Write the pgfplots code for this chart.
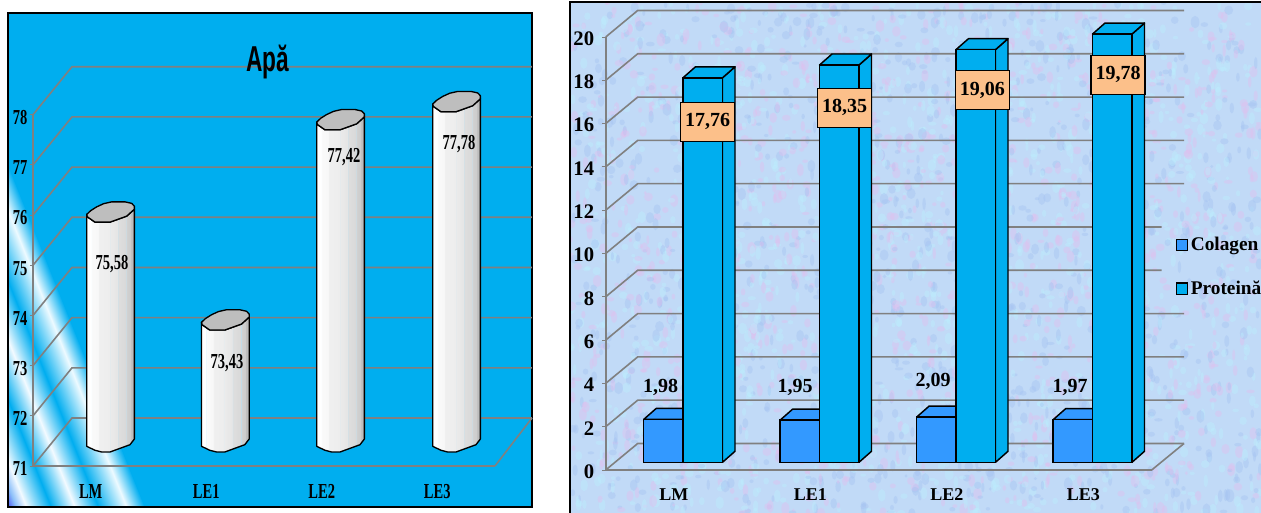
\documentclass[border=0pt]{standalone}
\usepackage{pgfplots}
\usepackage{pgfplotstable}
\usepackage{fontspec}
\pgfplotsset{compat=1.18}
\setmainfont{Liberation Serif}
\newfontfamily\condser[FakeStretch=0.68]{Liberation Serif}
\newfontfamily\condsans[FakeStretch=0.63]{Liberation Sans}
\definecolor{panelL}{RGB}{0,174,239}
\definecolor{panelR}{RGB}{193,218,247}
\definecolor{gridc}{RGB}{128,128,128}
\definecolor{colag}{RGB}{51,153,255}
\definecolor{prot}{RGB}{0,174,239}
\definecolor{boxc}{RGB}{252,192,138}
\definecolor{capc}{RGB}{190,190,190}
\definecolor{blobA}{RGB}{226,190,238}
\definecolor{blobB}{RGB}{188,238,254}
\definecolor{blobC}{RGB}{165,195,242}
\pgfdeclarehorizontalshading{cyl}{100bp}{rgb(0bp)=(1,1,1); rgb(25bp)=(1,1,1); rgb(29.5bp)=(1,1,1); rgb(30bp)=(.85,.94,.98); rgb(30.5bp)=(.98,.98,.98); rgb(37bp)=(.97,.97,.97); rgb(37.5bp)=(.94,.94,.94); rgb(48.5bp)=(.93,.93,.93); rgb(49bp)=(.8,.9,.95); rgb(49.5bp)=(.92,.92,.92); rgb(57bp)=(.9,.9,.9); rgb(57.5bp)=(.78,.89,.94); rgb(58bp)=(.87,.87,.87); rgb(66bp)=(.85,.85,.85); rgb(66.5bp)=(.74,.86,.92); rgb(67bp)=(.82,.82,.82); rgb(71bp)=(.8,.8,.8); rgb(71.5bp)=(.75,.75,.75); rgb(75bp)=(.72,.72,.72); rgb(100bp)=(.72,.72,.72)}
\pgfdeclarehorizontalshading{band}{100bp}{rgb(0bp)=(.3,.35,.95); rgb(25bp)=(.3,.35,.95); rgb(28bp)=(.55,.75,.98); rgb(31.7bp)=(.95,.98,1); rgb(40.7bp)=(0,.68,.94); rgb(49.4bp)=(.95,.98,1); rgb(58bp)=(0,.68,.94); rgb(68.3bp)=(.93,.98,1); rgb(75bp)=(0,.68,.94); rgb(100bp)=(0,.68,.94)}
% cylinder outlines: dx in px, t=1 hangs on the value, dy in px
\pgfplotstableread{
dx t dy
0 0 5.7
8.3 0 1.7
15 0 0
23.3 0 0
43.3 0 7.3
47.7 0 13
47.7 1 13
40 1 6
23.3 1 0
8.3 1 0
0.7 1 5.3
0 1 7.7
}\cylbody
\pgfplotstableread{
dx t dy
0 1 7.7
4 1 11.5
10 1 15.3
17 1 18.5
25 1 20.3
38.3 1 20.3
45 1 18.8
47.7 1 16
47.7 1 13
40 1 6
23.3 1 0
8.3 1 0
0.7 1 5.3
}\cylcap
\newcommand\cyl[2]{%
 \addplot[forget plot,shade,shading=cyl,draw=black,line width=1pt,line join=round]
  table[x expr={(#1+\thisrow{dx})/115.5},y expr={(\thisrow{t}==1 ? #2 : 71)+(14+\thisrow{dy})/50.2}]{\cylbody} -- cycle;
 \addplot[forget plot,fill=capc,draw=black,line width=1pt,line join=round]
  table[x expr={(#1+\thisrow{dx})/115.5},y expr={#2+(14+\thisrow{dy})/50.2}]{\cylcap} -- cycle;
}
\pgfplotstableread{
a d t
0 0 1
0 1 1
1 1 1
1 0 1
}\boxtop
\pgfplotstableread{
a d t
1 0 0
1 1 0
1 1 1
1 0 1
}\boxside
% #1 colour, #2 left px rel. axis, #3 value
\newcommand\bardepth[3]{%
 \addplot[forget plot,fill=#1,draw=black,line width=1.1pt,line join=round]
  table[x expr={(#2+\thisrow{a}*39.5+\thisrow{d}*12.5)/136.5},y expr={(\thisrow{t}==1 ? #3 : 0)+(7.7+\thisrow{d}*11)/21.65}]{\boxside} -- cycle;
 \addplot[forget plot,fill=#1,draw=black,line width=1.1pt,line join=round]
  table[x expr={(#2+\thisrow{a}*39.5+\thisrow{d}*12.5)/136.5},y expr={(\thisrow{t}==1 ? #3 : 0)+(7.7+\thisrow{d}*11)/21.65}]{\boxtop} -- cycle;
}
\pgfplotsset{gl/.style={forget plot,draw=gridc,line width=1.2pt,mark=none}}
\begin{document}
\begin{tikzpicture}
\path[use as bounding box] (0,0) rectangle (945.75pt,384.75pt);
\fill[panelL] (6pt,4.5pt) rectangle (399pt,375pt);
\begin{scope}
 \clip (6pt,4.5pt) -- (109.5pt,4.5pt) -- (6pt,261pt) -- cycle;
 \begin{scope}[transform canvas={shift={(6pt,4.5pt)},rotate=21.8}]
  \shade[shading=band] (0pt,-300pt) rectangle (95.25pt,500pt);
 \end{scope}
\end{scope}
\begin{scope}[x=0.75pt,y=-0.75pt,yshift=384.75pt]
 \draw[black,line width=1.2pt] (8,13) rectangle (532,507);
 % right panel
 \fill[panelR] (570,2) rectangle (1261,513);
 \begin{scope}
  \clip (570,2) rectangle (1261,513);
  \pgfmathsetseed{7}
  \foreach \i in {1,...,3600}{
   \pgfmathsetmacro\xx{570+rnd*691}
   \pgfmathsetmacro\yy{2+rnd*511}
   \pgfmathsetmacro\aa{1.5+rnd*3}
   \pgfmathsetmacro\bb{1.5+rnd*5}
   \pgfmathtruncatemacro\kk{mod(\i,3)}
   \ifcase\kk\relax \def\cc{blobA}\or \def\cc{blobB}\or \def\cc{blobC}\fi
   \fill[\cc,opacity=.42] (\xx,\yy) ellipse ({\aa} and {\bb});
  }
 \end{scope}
 \draw[black,line width=1.2pt] (1262,2) -- (570,2) -- (570,514);
\end{scope}

% LEFT chart
\begin{axis}[
 at={(24.75pt,35.25pt)},anchor=south west,scale only axis,
 width=346.5pt,height=263.475pt,clip=false,
 xmin=0,xmax=4,ymin=71,ymax=78,
 axis lines=left,axis line style={-,draw=gridc,line width=1.2pt},
 xtick={0.5,1.5,2.5,3.5},xticklabels={LM,LE1,LE2,LE3},
 minor xtick={1,2,3,4},
 ytick={71,...,78},
 tick align=outside,major tick length=2.5pt,minor tick length=2.5pt,
 tick style={draw=gridc,line width=.7pt},
 xtick style={draw=none},
 /pgf/number format/assume math mode=true,
 tick label style={font=\condser\bfseries\fontsize{16}{18}\selectfont},
 xticklabel style={anchor=center,yshift=-16.8pt},
 yticklabel style={inner sep=1.5pt,yshift=-2.2pt},
]
\addplot[gl] coordinates {(0,71)(0.3377,71.956)(4.32,71.956)};
\addplot[gl] coordinates {(4,71)(4.32,71.956)};
\addplot[gl] coordinates {(0,72)(0.3377,72.956)(4.32,72.956)};
\addplot[gl] coordinates {(0,73)(0.3377,73.956)(4.32,73.956)};
\addplot[gl] coordinates {(0,74)(0.3377,74.956)(4.32,74.956)};
\addplot[gl] coordinates {(0,75)(0.3377,75.956)(4.32,75.956)};
\addplot[gl] coordinates {(0,76)(0.3377,76.956)(4.32,76.956)};
\addplot[gl] coordinates {(0,77)(0.3377,77.956)(4.32,77.956)};
\addplot[gl] coordinates {(0,78)(0.3377,78.956)(4.32,78.956)};
\cyl{53.7}{75.58}
\cyl{168.5}{73.43}
\cyl{283.7}{77.42}
\cyl{399.7}{77.78}
\end{axis}

% RIGHT chart
\begin{axis}[
 at={(454.275pt,32.25pt)},anchor=south west,scale only axis,
 width=409.5pt,height=324.75pt,clip=false,
 xmin=0,xmax=4,ymin=0,ymax=20,
 axis lines=left,axis line style={-,draw=gridc,line width=1.2pt},
 xtick={0.5,1.5,2.5,3.5},xticklabels={LM,LE1,LE2,LE3},
 minor xtick={1,2,3,4},
 ytick={0,2,...,20},
 tick align=outside,major tick length=2.5pt,minor tick length=3pt,
 tick style={draw=gridc,line width=.7pt},
 xtick style={draw=none},
 /pgf/number format/assume math mode=true,
 tick label style={font=\bfseries\fontsize{15.5}{18}\selectfont},
 xticklabel style={font=\bfseries\fontsize{13.5}{16}\selectfont,anchor=center,yshift=-16.2pt},
 yticklabel style={inner sep=2pt,xshift=-4pt,yshift=-1.2pt},
 legend style={at={(1.0435,0.469)},anchor=west,draw=none,fill=none,inner sep=0pt,
   font=\bfseries\fontsize{14.5}{16}\selectfont,row sep=17pt,
   /tikz/every even column/.append style={column sep=4.5pt}},
 legend cell align=left,
 legend image code/.code={\draw[#1] (0pt,-4.2pt) rectangle (8.4pt,4.2pt);},
]
\addplot[gl] coordinates {(0,0)(0.2344,1.224)(4.2366,1.224)};
\addplot[gl] coordinates {(4,0)(4.2366,1.224)};
\addplot[gl] coordinates {(0,2)(0.2344,3.224)(4.2366,3.224)};
\addplot[gl] coordinates {(0,4)(0.2344,5.224)(4.2366,5.224)};
\addplot[gl] coordinates {(0,6)(0.2344,7.224)(4.2366,7.224)};
\addplot[gl] coordinates {(0,8)(0.2344,9.224)(4.073,9.224)};
\addplot[gl] coordinates {(0,10)(0.2344,11.224)(4.073,11.224)};
\addplot[gl] coordinates {(0,12)(0.2344,13.224)(4.2366,13.224)};
\addplot[gl] coordinates {(0,14)(0.2344,15.224)(4.2366,15.224)};
\addplot[gl] coordinates {(0,16)(0.2344,17.224)(4.2366,17.224)};
\addplot[gl] coordinates {(0,18)(0.2344,19.224)(4.2366,19.224)};
\addplot[gl] coordinates {(0,20)(0.2344,21.224)(4.2366,21.224)};
% Colagen
\bardepth{colag}{38}{1.98}
\bardepth{colag}{174.5}{1.95}
\bardepth{colag}{311}{2.09}
\bardepth{colag}{447.5}{1.97}
\addplot[forget plot,ybar,bar shift=0pt,bar width=29.6pt,yshift=5.775pt,fill=colag,draw=black,line width=1.1pt]
 coordinates {(0.4231,1.98)(1.4231,1.95)(2.4231,2.09)(3.4231,1.97)};
% Proteina
\bardepth{prot}{77.3}{17.76}
\bardepth{prot}{213.8}{18.35}
\bardepth{prot}{350.3}{19.06}
\bardepth{prot}{486.8}{19.78}
\addplot[forget plot,ybar,bar shift=0pt,bar width=29.6pt,yshift=5.775pt,fill=prot,draw=black,line width=1.1pt]
 coordinates {(0.7110,17.76)(1.7110,18.35)(2.7110,19.06)(3.7110,19.78)};
\addlegendimage{fill=colag,draw=black,line width=.9pt}
\addlegendentry{Colagen}
\addlegendimage{fill=prot,draw=black,line width=.9pt}
\addlegendentry{Proteină}
\end{axis}

\begin{scope}[x=0.75pt,y=-0.75pt,yshift=384.75pt]
 \node[anchor=base,inner sep=0pt,font=\condsans\bfseries\fontsize{27}{30}\selectfont] at (268,72) {Apă};
 \tikzset{cv/.style={inner sep=0pt,font=\condser\bfseries\fontsize{16}{18}\selectfont}}
 \node[cv] at (112,264) {75,58};
 \node[cv] at (227,363) {73,43};
 \node[cv] at (344,157) {77,42};
 \node[cv] at (459,144) {77,78};
 \tikzset{bl/.style={inner sep=0pt,font=\bfseries\fontsize{15}{18}\selectfont}}
 \node[bl] at (660.7,387.7) {1,98};
 \node[bl] at (795,387.7) {1,95};
 \node[bl] at (933,381) {2,09};
 \node[bl] at (1070,387.7) {1,97};
 \tikzset{ob/.style={bl,fill=boxc,draw=black,line width=.9pt,minimum width=40.5pt,minimum height=29.25pt}}
 \node[ob] at (707.7,121.7) {17,76};
 \node[ob] at (844.7,107.7) {18,35};
 \node[ob] at (982.3,90.3) {19,06};
 \node[ob] at (1118,74.8) {19,78};
\end{scope}
\end{tikzpicture}
\end{document}
